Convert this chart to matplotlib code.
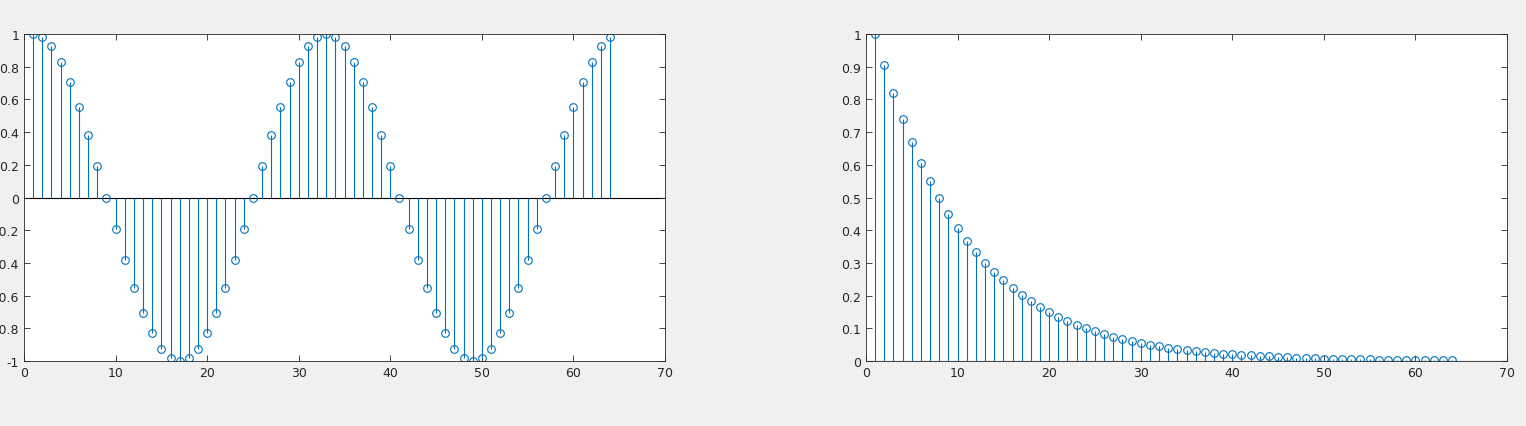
import matplotlib.pyplot as plt
import numpy as np

n = list(range(1, 65))

cos_period = [1, 0.981, 0.924, 0.831, 0.707, 0.556, 0.383, 0.195, 0.0,
              -0.195, -0.383, -0.556, -0.707, -0.831, -0.924, -0.981, -1.0,
              -0.981, -0.924, -0.831, -0.707, -0.556, -0.383, -0.195, 0.0,
              0.195, 0.383, 0.556, 0.707, 0.831, 0.924, 0.981]
cos_values = cos_period + cos_period

exp_values = [1.0, 0.905, 0.819, 0.741, 0.670, 0.607, 0.549, 0.497, 0.449, 0.407,
              0.368, 0.333, 0.301, 0.273, 0.247, 0.223, 0.202, 0.183, 0.165, 0.150,
              0.135, 0.122, 0.111, 0.100, 0.091, 0.082, 0.074, 0.067, 0.061, 0.055,
              0.050, 0.045, 0.041, 0.037, 0.033, 0.030, 0.027, 0.025, 0.022, 0.020,
              0.018, 0.017, 0.015, 0.014, 0.012, 0.011, 0.010, 0.009, 0.008, 0.007,
              0.007, 0.006, 0.006, 0.005, 0.005, 0.004, 0.004, 0.003, 0.003, 0.003,
              0.002, 0.002, 0.002, 0.002]

BLUE = "#0072bd"
W, H = 1526, 427

fig = plt.figure(figsize=(W / 100, H / 100), dpi=100, facecolor="#f0f0f0")
ax1 = fig.add_axes([24 / W, 1 - 362 / H, (665 - 24) / W, (362 - 35) / H])
ax2 = fig.add_axes([866 / W, 1 - 362 / H, (1507 - 866) / W, (362 - 35) / H])


def stem(ax, x, y):
    ml, sl, bl = ax.stem(x, y, linefmt="-", markerfmt="o", basefmt=" ")
    plt.setp(sl, color=BLUE, linewidth=0.8)
    plt.setp(ml, markerfacecolor="none", markeredgecolor=BLUE, markersize=5.5, markeredgewidth=0.8)
    ax.axhline(0, color="black", linewidth=0.8, zorder=1)
    ax.set_xlim(0, 70)
    ax.set_xticks(range(0, 71, 10))
    for s in ax.spines.values():
        s.set_color("#262626")
        s.set_linewidth(0.6)
    ax.tick_params(direction="in", length=4, width=0.6, labelsize=9,
                   colors="#262626", top=True, right=True)
    ax.set_facecolor("white")


stem(ax1, n, cos_values)
ax1.set_ylim(-1, 1)
ax1.set_yticks(np.arange(-1, 1.01, 0.2).round(1))
ax1.set_yticklabels(["-1", "-0.8", "-0.6", "-0.4", "-0.2", "0", "0.2", "0.4", "0.6", "0.8", "1"])

stem(ax2, n, exp_values)
ax2.set_ylim(0, 1)
ax2.set_yticks(np.arange(0, 1.01, 0.1).round(1))
ax2.set_yticklabels(["0", "0.1", "0.2", "0.3", "0.4", "0.5", "0.6", "0.7", "0.8", "0.9", "1"])

fig.savefig("out.png", dpi=100, facecolor=fig.get_facecolor())
